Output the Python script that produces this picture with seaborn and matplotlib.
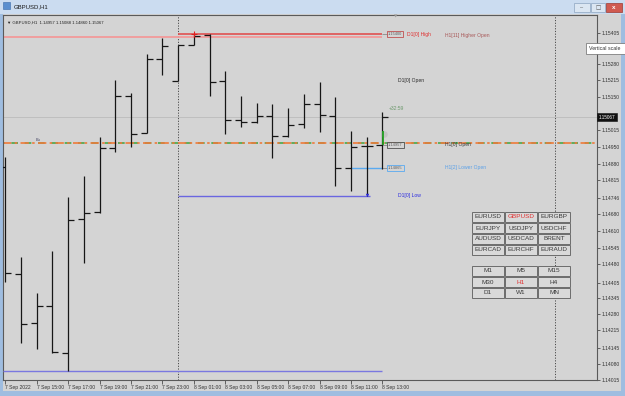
import matplotlib
matplotlib.use("Agg")
import matplotlib.pyplot as plt
import seaborn as sns
import numpy as np
from matplotlib.patches import Rectangle
from matplotlib.transforms import blended_transform_factory

# ---------------- data ----------------
opens = [1.14870, 1.14438, 1.14242, 1.14313, 1.14123, 1.14659, 1.14687, 1.14943, 1.15152,
         1.15004, 1.15301, 1.15214, 1.15357, 1.15397, 1.15211, 1.15055, 1.15049, 1.15072,
         1.14992, 1.15040, 1.15119, 1.15072, 1.14865, 1.14952, 1.14957]
highs = [1.14909, 1.14507, 1.14365, 1.14533, 1.14747, 1.14832, 1.14990, 1.15217, 1.15166,
         1.15321, 1.15384, 1.15357, 1.15401, 1.15400, 1.15254, 1.15153, 1.15126, 1.15121,
         1.15105, 1.15161, 1.15210, 1.15150, 1.15011, 1.14987, 1.15088]
lows = [1.14409, 1.14164, 1.14139, 1.14122, 1.14052, 1.14482, 1.14684, 1.14929, 1.14947,
        1.15003, 1.15237, 1.15213, 1.15357, 1.15154, 1.15000, 1.15030, 1.15046, 1.14903,
        1.14987, 1.15023, 1.15007, 1.14793, 1.14773, 1.14753, 1.14860]
closes = [1.14442, 1.14239, 1.14313, 1.14127, 1.14656, 1.14685, 1.14943, 1.15153, 1.15002,
          1.15300, 1.15352, 1.15357, 1.15394, 1.15210, 1.15056, 1.15050, 1.15074, 1.14992,
          1.15038, 1.15119, 1.15075, 1.14865, 1.14947, 1.14953, 1.15067]

time_labels = ["7 Sep 2022", "7 Sep 15:00", "7 Sep 17:00", "7 Sep 19:00", "7 Sep 21:00",
               "7 Sep 23:00", "8 Sep 01:00", "8 Sep 03:00", "8 Sep 05:00", "8 Sep 07:00",
               "8 Sep 09:00", "8 Sep 11:00", "8 Sep 13:00"]
time_label_bars = [0, 2, 4, 6, 8, 10, 12, 14, 16, 18, 20, 22, 24]

price_ticks = [1.15405, 1.15340, 1.15280, 1.15215, 1.15150, 1.15080, 1.15015, 1.14950,
               1.14880, 1.14815, 1.14746, 1.14680, 1.14610, 1.14545, 1.14480, 1.14405,
               1.14345, 1.14280, 1.14215, 1.14145, 1.14080, 1.14015]
hidden_ticks = [1.15340, 1.15080]   # covered by the tooltip / current price tag

d1_high = 1.15400
h1_higher_open = 1.15388
d1_open = 1.15214
current_price = 1.15067
h1_open = 1.14957
pivot_line = 1.14966
h1_lower_open = 1.14865
d1_low = 1.14753
low_line = 1.14052

symbols = [["EURUSD", "GBPUSD", "EURGBP"],
           ["EURJPY", "USDJPY", "USDCHF"],
           ["AUDUSD", "USDCAD", "BRENT"],
           ["EURCAD", "EURCHF", "EURAUD"]]
timeframes = [["M1", "M5", "M15"],
              ["M30", "H1", "H4"],
              ["D1", "W1", "MN"]]
active_symbol = "GBPUSD"
active_tf = "H1"

# ---------------- style ----------------
sns.set_theme(style="white")
plt.rcParams['font.family'] = ['Liberation Sans', 'DejaVu Sans']

W, H = 625, 396
fig = plt.figure(figsize=(6.25, 3.96), dpi=100)
fig.patch.set_facecolor('#9fbde0')


def fr(x0, y0, x1, y1):
    return [x0 / W, 1 - y1 / H, (x1 - x0) / W, (y1 - y0) / H]


def rect(x0, y0, x1, y1, **kw):
    r = Rectangle((x0 / W, 1 - y1 / H), (x1 - x0) / W, (y1 - y0) / H,
                  transform=fig.transFigure, **kw)
    fig.add_artist(r)
    return r


# window frame pieces
rect(0, 0, 625, 14, fc='#cbdcf0', ec='none', zorder=-2)
rect(3, 14, 621, 391, fc='#d4d4d4', ec='none', zorder=-1)
rect(3, 2, 10, 9, fc='#5b8fcf', ec='#3a6aa8', lw=0.4, zorder=1)
fig.text(14 / W, 1 - 6.5 / H, "GBPUSD,H1", fontsize=4.3, color='#1a1a1a', va='center')
rect(574, 3, 590, 12, fc='#dbe6f2', ec='#8ca4c0', lw=0.5, zorder=1)
rect(591, 3, 605, 12, fc='#dbe6f2', ec='#8ca4c0', lw=0.5, zorder=1)
rect(606, 3, 622, 12, fc='#d05a50', ec='#9a3a33', lw=0.5, zorder=1)
fig.text(582 / W, 1 - 8 / H, "–", fontsize=4, color='#555', ha='center', va='center')
fig.text(598 / W, 1 - 7.5 / H, "□", fontsize=4, color='#555', ha='center', va='center',
         family=['DejaVu Sans'])
fig.text(614 / W, 1 - 7.5 / H, "x", fontsize=4.5, color='white', ha='center', va='center',
         weight='bold')

# ---------------- main chart ----------------
ax = fig.add_axes(fr(3, 15, 597, 380))
ax.set_facecolor('#d4d4d4')
idx = np.arange(len(opens))
bar_col = '#161616'
ax.vlines(idx, lows, highs, color=bar_col, lw=0.9, zorder=4)
ax.hlines(opens, idx - 0.38, idx, color=bar_col, lw=0.9, zorder=4)
ax.hlines(closes, idx, idx + 0.38, color=bar_col, lw=0.9, zorder=4)

x_left, x_right = -0.146, 37.66
ax.set_xlim(x_left, x_right)
ax.set_ylim(1.14015, 1.15477)

# level lines
ax.axhline(current_price, color='#bcbcbc', lw=0.6, zorder=1)
ax.hlines(h1_higher_open, x_left, 24, color='#f29a9a', lw=1.3, zorder=2)
ax.hlines(d1_high, 11, 24, color='#e05050', lw=1.2, zorder=3)
ax.axhline(pivot_line, color='#48a848', lw=1.2, ls=(3, (4, 4)), zorder=2)
ax.axhline(pivot_line, color='#ef7a3a', lw=1.2, ls=(0, (5, 2, 1.5, 2)), zorder=2)
ax.hlines(h1_lower_open, 22, 24, color='#5aaaf0', lw=1.0, zorder=3)
ax.hlines(d1_low, 11, 23.2, color='#6a66e0', lw=1.0, zorder=3)
ax.hlines(low_line, x_left, 24, color='#7a78e0', lw=1.0, zorder=3)
for lv in (d1_high, h1_open, h1_lower_open):
    ax.hlines(lv, 24, 24.35, color='#8a8a8a', lw=0.6, zorder=3)
ax.axvline(11, color='#4a4a4a', lw=0.7, ls=(0, (1.2, 1.6)), zorder=1)
ax.axvline(35, color='#4a4a4a', lw=0.7, ls=(0, (1.2, 1.6)), zorder=1)

# markers
sns.scatterplot(x=[12], y=[highs[12]], marker='+', color='#e02020', s=14, linewidth=0.8,
                ax=ax, zorder=6, legend=False)
sns.scatterplot(x=[23], y=[d1_low + 0.00004], marker='v', color='#2a2ad8', s=6, linewidth=0,
                ax=ax, zorder=6, legend=False)
ax.vlines(24.05, h1_open, h1_open + 0.00055, color='#22a022', lw=1.3, zorder=5)
sns.scatterplot(x=[24.1], y=[h1_open + 0.00045], marker='o', color='#b8b8b8', s=22,
                linewidth=0, alpha=0.6, ax=ax, zorder=4, legend=False)

# price boxes
box_x = 24.36
for lv, ec in ((d1_high, '#c05050'), (h1_open, '#505050'), (h1_lower_open, '#5aaaf0')):
    ax.text(box_x, lv, f"{lv:.5f}", fontsize=2.9, color='#606060', va='center', ha='left',
            zorder=6, bbox=dict(boxstyle='square,pad=0.3', fc='#d4d4d4', ec=ec, lw=0.6))

# level captions
ax.text(25.55, d1_high, "D1[0] High", fontsize=3.6, color='#e03030', va='center', zorder=7)
ax.text(28.0, d1_high - 0.00004, "H1[11] Higher Open", fontsize=3.6, color='#a85858',
        va='center', zorder=7)
ax.text(25.0, d1_open, "D1[0] Open", fontsize=3.6, color='#2a2a2a', va='center', zorder=7)
ax.text(24.4, current_price + 0.00036, "+32:59", fontsize=3.6, color='#6e9a6e', va='center',
        zorder=7)
ax.text(28.0, h1_open, "H1[0] Open", fontsize=3.6, color='#3a3a3a', va='center', zorder=7)
ax.text(28.0, h1_lower_open, "H1[2] Lower Open", fontsize=3.6, color='#5aa0e8', va='center',
        zorder=7)
ax.text(25.0, d1_low, "D1[0] Low", fontsize=3.6, color='#2c2ce0', va='center', zorder=7)
ax.text(1.9, pivot_line + 0.00012, "Bu", fontsize=2.8, color='#404060', va='center', zorder=7)

# header line
ax.text(0.006, 0.985,
        f"▼ GBPUSD,H1  {opens[-1]:.5f} {highs[-1]:.5f} {lows[-1]:.5f} {closes[-1]:.5f}",
        transform=ax.transAxes, fontsize=3.1, color='#222', va='top', ha='left',
        family=['Liberation Sans', 'DejaVu Sans'])
ax.text(0.661, 1.0, "▼", transform=ax.transAxes, fontsize=3.2, color='#9a9a9a', va='top',
        ha='center', family=['DejaVu Sans'])

# axes styling
for s in ax.spines.values():
    s.set_color('#5a5a5a')
    s.set_linewidth(0.8)
ax.yaxis.tick_right()
ax.set_yticks(price_ticks)
ax.set_yticklabels(["" if p in hidden_ticks else f"{p:.5f}" for p in price_ticks])
ax.tick_params(axis='y', right=True, left=False, labelright=True, labelleft=False,
               length=2, width=0.5, pad=1, labelsize=3.6, colors='#333333')
ax.set_xticks(time_label_bars)
ax.set_xticklabels(time_labels)
ax.tick_params(axis='x', bottom=True, length=3, width=0.5, pad=0.6, labelsize=3.6,
               colors='#333333')
for lab in ax.get_xticklabels():
    lab.set_horizontalalignment('left')
ax.grid(False)

# current price tag on the scale
tr = blended_transform_factory(ax.transAxes, ax.transData)
ax.text(1.003, current_price, f"{current_price:.5f}", transform=tr, fontsize=3.3,
        color='white', va='center', ha='left', clip_on=False, zorder=10,
        bbox=dict(boxstyle='square,pad=0.35', fc='#111111', ec='#111111', lw=0.4))

# ---------------- button panels ----------------
col_x = [(472, 504), (505, 537), (538, 570)]


def buttons(grid, top, active):
    for r, row in enumerate(grid):
        for c, name in enumerate(row):
            x0, x1 = col_x[c]
            y0 = top + r * 11
            y1 = y0 + 10
            rect(x0, y0, x1, y1, fc='#d9d9d9', ec='#6c6c6c', lw=0.7, zorder=5)
            fig.text((x0 + x1) / 2 / W, 1 - (y0 + y1) / 2 / H, name, fontsize=4.6,
                     color='#e03030' if name == active else '#3a3a3a',
                     ha='center', va='center', zorder=6)


buttons(symbols, 212, active_symbol)
buttons(timeframes, 266, active_tf)

# tooltip
rect(586, 43, 630, 54, fc='white', ec='#6a6a6a', lw=0.5, zorder=8)
fig.text(589 / W, 1 - 48.5 / H, "Vertical scale", fontsize=3.8, color='#333',
         va='center', ha='left', zorder=9)

fig.savefig("out.png", dpi=100, facecolor=fig.get_facecolor())
